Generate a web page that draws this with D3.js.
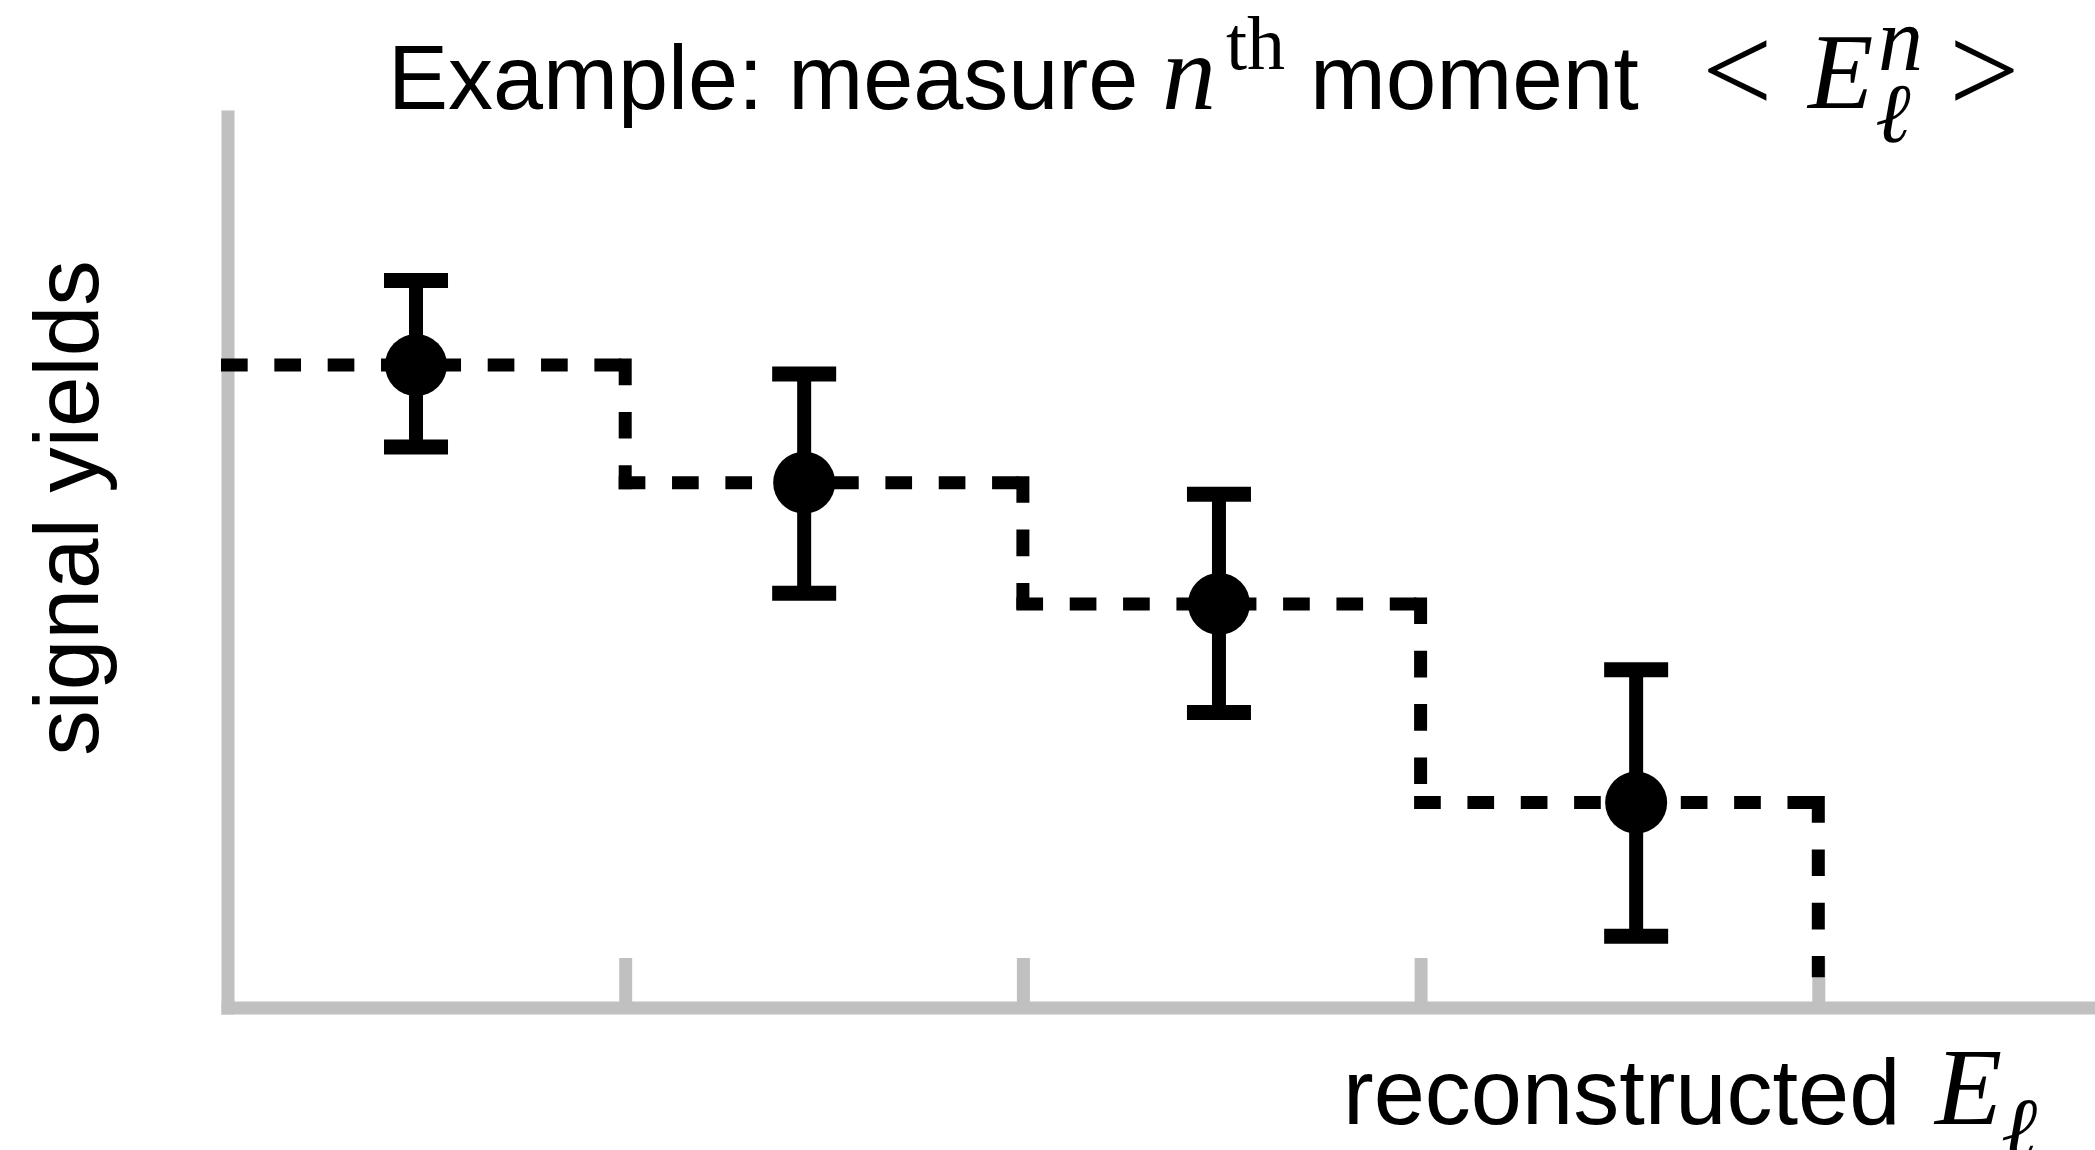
<!DOCTYPE html>
<html>
<head>
<meta charset="utf-8">
<script src="https://cdn.jsdelivr.net/npm/d3@7"></script>
<style>
  html, body { margin: 0; padding: 0; background: #fff; }
  svg { display: block; }
  .sans { font-family: "Liberation Sans", Arial, Helvetica, sans-serif; fill: #000; }
  .math { font-family: "Liberation Serif", "Times New Roman", serif; font-style: italic; fill: #000; }
  .roman { font-family: "Liberation Serif", "Times New Roman", serif; fill: #000; }
</style>
</head>
<body>
<script>
// Histogram bin edges (in units of reconstructed lepton energy bins)
const binEdges = [0, 1, 2, 3, 4];
// Expected yield in each bin (dashed step template)
const stepLevels = [7.21, 5.89, 4.53, 2.30];
// Where the last step's drop ends
const stepFloor = 0.34;

// Measured points with asymmetric error bars
const pointX = [0.474, 1.45, 2.493, 3.542];
const pointY = [7.21, 5.89, 4.53, 2.30];
const errHigh = [8.16, 7.11, 5.76, 3.79];
const errLow = [6.29, 4.65, 3.31, 0.80];

const W = 2095, H = 1150;
const AXIS_GRAY = "#c0c0c0";
const AXIS_W = 13;
const DASH_W = 13;

const svg = d3.select("body").append("svg")
  .attr("width", W).attr("height", H);

const x = d3.scaleLinear().domain([0, 4.7]).range([227.5, 227.5 + 4.7 * 397.7]);
const y = d3.scaleLinear().domain([0, 10]).range([1007.5, 116.5]);

// ---- axes ----
const yAxisG = svg.append("g")
  .attr("transform", `translate(${x(0)},0)`)
  .call(d3.axisLeft(y).tickValues([]).tickSizeOuter(0));
yAxisG.select(".domain")
  .attr("stroke", AXIS_GRAY).attr("stroke-width", AXIS_W)
  .attr("stroke-linecap", "square");

const xAxisG = svg.append("g")
  .attr("transform", `translate(0,${y(0)})`)
  .call(d3.axisBottom(x)
    .tickValues(binEdges.slice(1))
    .tickSize(-49.5)
    .tickSizeOuter(0)
    .tickFormat(""));
xAxisG.select(".domain")
  .attr("stroke", AXIS_GRAY).attr("stroke-width", AXIS_W)
  .attr("stroke-linecap", "square");
xAxisG.selectAll(".tick line")
  .attr("stroke", AXIS_GRAY).attr("stroke-width", AXIS_W);

// ---- dashed step template: one line per edge of the staircase ----
const hw = DASH_W / 2;
const segments = [];
stepLevels.forEach((lvl, i) => {
  segments.push({
    x1: x(binEdges[i]) - hw, y1: y(lvl),
    x2: x(binEdges[i + 1]) + hw, y2: y(lvl)
  });
  const next = i + 1 < stepLevels.length ? y(stepLevels[i + 1]) + hw : y(stepFloor);
  segments.push({
    x1: x(binEdges[i + 1]), y1: y(lvl) - hw,
    x2: x(binEdges[i + 1]), y2: next
  });
});

svg.append("g").selectAll("line.step")
  .data(segments).join("line")
  .attr("class", "step")
  .attr("x1", d => d.x1).attr("y1", d => d.y1)
  .attr("x2", d => d.x2).attr("y2", d => d.y2)
  .attr("stroke", "#000")
  .attr("stroke-width", DASH_W)
  .attr("stroke-dasharray", "26.67 26.67")
  .attr("stroke-linecap", "butt");

// ---- data points with error bars ----
const pts = pointX.map((px, i) => ({ x: px, y: pointY[i], hi: errHigh[i], lo: errLow[i] }));
const pg = svg.append("g").selectAll("g.pt").data(pts).join("g").attr("class", "pt");

pg.append("line")
  .attr("x1", d => x(d.x)).attr("x2", d => x(d.x))
  .attr("y1", d => y(d.hi)).attr("y2", d => y(d.lo))
  .attr("stroke", "#000").attr("stroke-width", 14);

[ "hi", "lo" ].forEach(k => {
  pg.append("line")
    .attr("x1", d => x(d.x) - 32).attr("x2", d => x(d.x) + 32)
    .attr("y1", d => y(d[k])).attr("y2", d => y(d[k]))
    .attr("stroke", "#000").attr("stroke-width", 15);
});

pg.append("circle")
  .attr("cx", d => x(d.x)).attr("cy", d => y(d.y))
  .attr("r", 31).attr("fill", "#000");

// ---- title ----
const title = svg.append("g");
title.append("text").attr("class", "sans")
  .attr("x", 388).attr("y", 109).attr("font-size", 90)
  .text("Example: measure");

const nth = title.append("text").attr("class", "roman").attr("y", 109);
nth.append("tspan").attr("class", "math")
  .attr("x", 1162).attr("y", 109).attr("font-size", 108)
  .text("n");
nth.append("tspan")
  .attr("x", 1226).attr("y", 69).attr("font-size", 76)
  .text("th");

title.append("text").attr("class", "sans")
  .attr("x", 1310).attr("y", 109).attr("font-size", 91)
  .text("moment");

// < E_ℓ^n >
const moment = title.append("text").attr("class", "roman").attr("y", 112);
moment.append("tspan")
  .attr("x", 1702).attr("y", 112).attr("font-size", 125)
  .text("<");
moment.append("tspan").attr("class", "math")
  .attr("x", 1808).attr("y", 108).attr("font-size", 107)
  .text("E");
moment.append("tspan").attr("class", "math")
  .attr("x", 1878).attr("y", 70).attr("font-size", 90)
  .text("n");
moment.append("tspan").attr("class", "math")
  .attr("x", 1875).attr("y", 142).attr("font-size", 85)
  .text("ℓ");
moment.append("tspan")
  .attr("x", 1949).attr("y", 112).attr("font-size", 125)
  .text(">");

// ---- axis labels ----
svg.append("text").attr("class", "sans")
  .attr("transform", "translate(98,508) rotate(-90)")
  .attr("text-anchor", "middle")
  .attr("font-size", 91)
  .text("signal yields");

const xl = svg.append("text").attr("class", "sans").attr("y", 1124);
xl.append("tspan")
  .attr("x", 1343).attr("y", 1124).attr("font-size", 92)
  .text("reconstructed");
xl.append("tspan").attr("class", "math")
  .attr("x", 1935).attr("y", 1124).attr("font-size", 110)
  .text("E");
xl.append("tspan").attr("class", "math")
  .attr("x", 2001).attr("y", 1158).attr("font-size", 87)
  .text("ℓ");
</script>
</body>
</html>
